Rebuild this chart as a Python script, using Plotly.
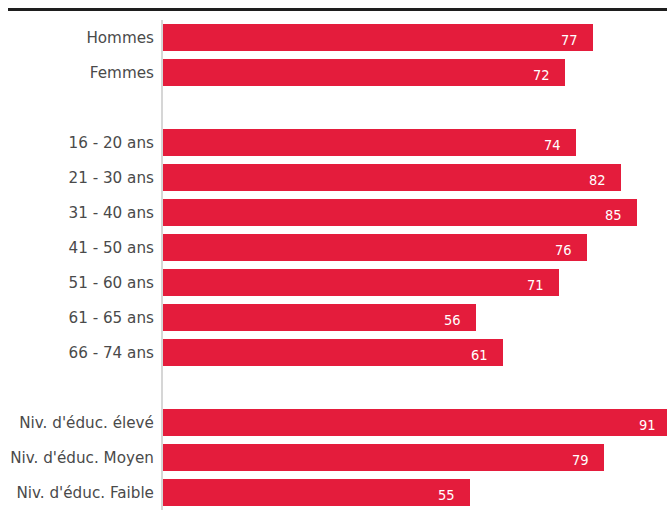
import plotly.graph_objects as go

groups = [
    ["Hommes", "Femmes"],
    ["16 - 20 ans", "21 - 30 ans", "31 - 40 ans", "41 - 50 ans", "51 - 60 ans", "61 - 65 ans", "66 - 74 ans"],
    ["Niv. d'éduc. élevé", "Niv. d'éduc. Moyen", "Niv. d'éduc. Faible"],
]
values = [
    [77, 72],
    [74, 82, 85, 76, 71, 56, 61],
    [91, 79, 55],
]

labels, vals, pos = [], [], []
slot = 0
for gi, (g, v) in enumerate(zip(groups, values)):
    if gi > 0:
        slot += 1
    for lab, val in zip(g, v):
        labels.append(lab)
        vals.append(val)
        pos.append(slot)
        slot += 1
nslots = slot

RED = "#E41C3C"
FONT = "DejaVu Sans"
VFONT = "DejaVu Sans Condensed"

fig = go.Figure(go.Bar(
    x=vals, y=pos, orientation="h",
    marker=dict(color=RED, line=dict(width=0)),
    width=0.78, hoverinfo="skip",
))

annotations = [
    dict(x=v, y=p, text=str(v), showarrow=False, xanchor="right", yanchor="middle",
         xshift=-13, yshift=-2.5, font=dict(family=VFONT, size=14.5, color="white"))
    for v, p in zip(vals, pos)
]

fig.update_layout(
    width=671, height=513,
    margin=dict(l=163, r=0, t=20, b=3),
    paper_bgcolor="white", plot_bgcolor="white",
    showlegend=False,
    bargap=0,
    annotations=annotations,
    xaxis=dict(range=[0, 91.02], visible=False, fixedrange=True),
    yaxis=dict(
        range=[nslots - 0.5, -0.5],
        tickvals=pos, ticktext=labels,
        showgrid=False, zeroline=False,
        showline=True, linecolor="#d6d6d6", linewidth=2,
        ticks="", ticklabelstandoff=4,
        tickfont=dict(family=FONT, size=15.2, color="#4a4a4a"),
        fixedrange=True,
    ),
    shapes=[dict(type="line", xref="paper", yref="paper",
                 x0=-0.3051, x1=1.0, y0=1.0214, y1=1.0214,
                 line=dict(color="#1e1e1e", width=3))],
)

fig.write_html("out.html", config={"displayModeBar": False},
               post_script="document.body.style.margin='0';document.body.style.overflow='hidden';")
